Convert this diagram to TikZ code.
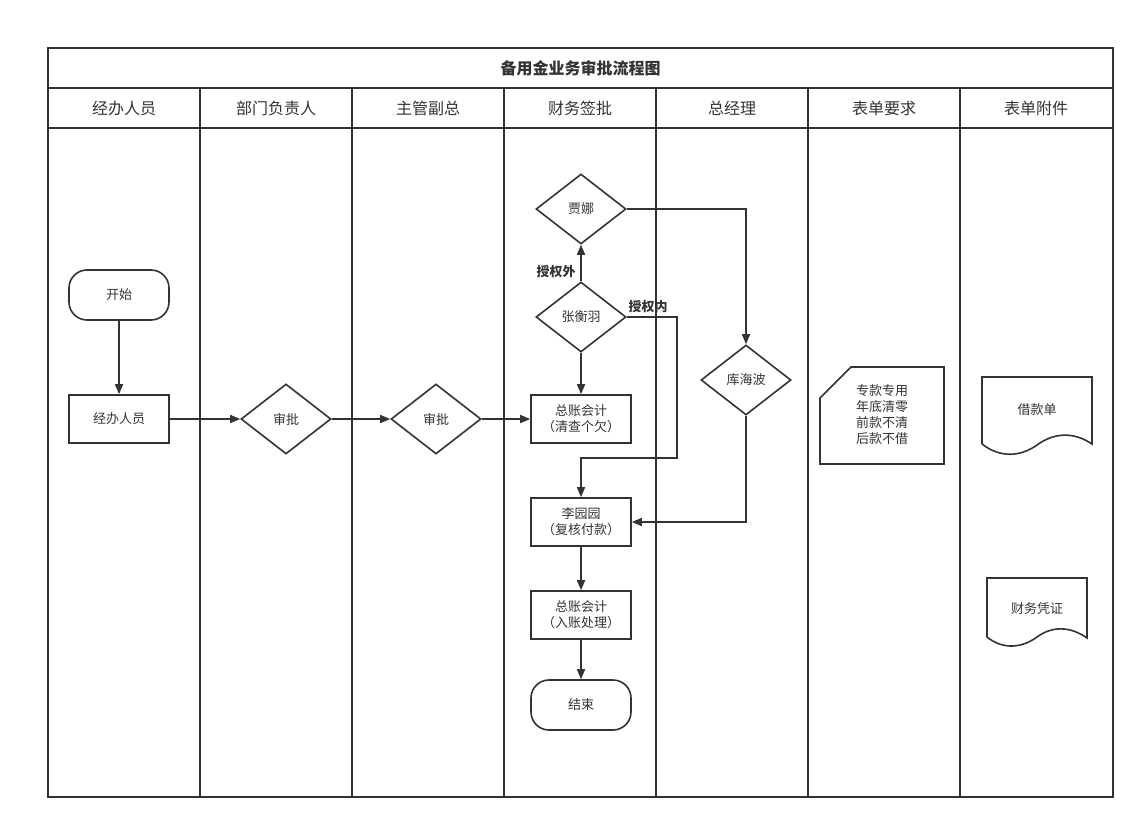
\documentclass[tikz,border=0pt]{standalone}
\usepackage{fontspec}
\setmainfont{Noto Sans CJK SC}
\usetikzlibrary{arrows.meta,shapes.geometric,calc}
\definecolor{ink}{HTML}{333333}
\newcommand{\lp}{\kern5pt（}
\newcommand{\rp}{）\kern5pt}
\begin{document}
\begin{tikzpicture}[x=1pt,y=-1pt,
  lane/.style={draw=ink,line width=2pt},
  shp/.style={draw=ink,line width=1.6pt},
  nodefont/.style={text=ink,font=\fontsize{13}{16}\selectfont},
  box/.style={shp,nodefont,minimum width=100pt,minimum height=48pt,inner sep=0pt,align=center},
  term/.style={box,rounded corners=18pt,minimum height=50pt},
  dia/.style={diamond,shp,nodefont,minimum width=90pt,minimum height=70pt,inner sep=0pt,aspect=1.3},
  txt/.style={nodefont,align=center,inner sep=0pt},
  head/.style={text=ink,font=\fontsize{16}{18}\selectfont,inner sep=0pt},
  lbl/.style={text=ink,font=\bfseries\fontsize{13}{16}\selectfont,inner sep=0pt},
  arr/.style={draw=ink,line width=1.6pt,-{Triangle[length=10pt,width=8pt]}}]
\useasboundingbox (0,0) rectangle (1145,829);
% swimlane frame
\draw[lane] (48,48) rectangle (1113,797);
\draw[lane] (48,88) -- (1113,88);
\draw[lane] (48,128) -- (1113,128);
\foreach \x in {200,352,504,656,808,960} \draw[lane] (\x,88) -- (\x,797);
\node[head,font=\bfseries\fontsize{16}{18}\selectfont] (title) at (580.5,68) {备用金业务审批流程图};
\node[head] (h1) at (124,108) {经办人员};
\node[head] (h2) at (276,108) {部门负责人};
\node[head] (h3) at (428,108) {主管副总};
\node[head] (h4) at (580,108) {财务签批};
\node[head] (h5) at (732,108) {总经理};
\node[head] (h6) at (884,108) {表单要求};
\node[head] (h7) at (1036,108) {表单附件};
% nodes
\node[term] (start) at (119,295) {开始};
\node[box] (jb) at (119,419) {经办人员};
\node[dia] (sp1) at (286,419) {审批};
\node[dia] (sp2) at (436,419) {审批};
\node[box] (zz1) at (581,419) {总账会计\\\lp 清查个欠\rp};
\node[dia] (jia) at (581,209) {贾娜};
\node[dia] (zhang) at (581,317) {张衡羽};
\node[dia] (ku) at (746,380) {库海波};
\node[box] (li) at (581,522) {李园园\\\lp 复核付款\rp};
\node[box] (zz2) at (581,615) {总账会计\\\lp 入账处理\rp};
\node[term] (end) at (581,705) {结束};
% card
\draw[shp] (820,398) -- (851,367) -- (944,367) -- (944,464) -- (820,464) -- cycle;
\node[txt] (req) at (882,415) {专款专用\\年底清零\\前款不清\\后款不借};
% documents
\draw[shp] (982,444) -- (982,377) -- (1092,377) -- (1092,444)
  .. controls (1074,432) and (1055,432) .. (1037,445)
  .. controls (1020,457) and (1000,458) .. (982,444);
\node[txt] (doc1) at (1037,410) {借款单};
\draw[shp] (987,637) -- (987,578) -- (1087,578) -- (1087,638)
  .. controls (1070,626) and (1052,626) .. (1037,637)
  .. controls (1022,648) and (1003,650) .. (987,637);
\node[txt] (doc2) at (1037,609) {财务凭证};
% connectors
\draw[arr] (start) -- (jb);
\draw[arr] (jb) -- (sp1);
\draw[arr] (sp1) -- (sp2);
\draw[arr] (sp2) -- (zz1);
\draw[arr] (zhang) -- (jia);
\draw[arr] (zhang) -- (zz1);
\draw[arr] (zhang.east) -- ++(50,0) -- ++(0,141) -| (li.north);
\draw[arr] (jia.east) -| (ku.north);
\draw[arr] (ku.south) |- (li.east);
\draw[arr] (li) -- (zz2);
\draw[arr] (zz2) -- (end);
\node[lbl] (lout) at (556,272) {授权外};
\node[lbl] (lin) at (648,307) {授权内};
\end{tikzpicture}
\end{document}
